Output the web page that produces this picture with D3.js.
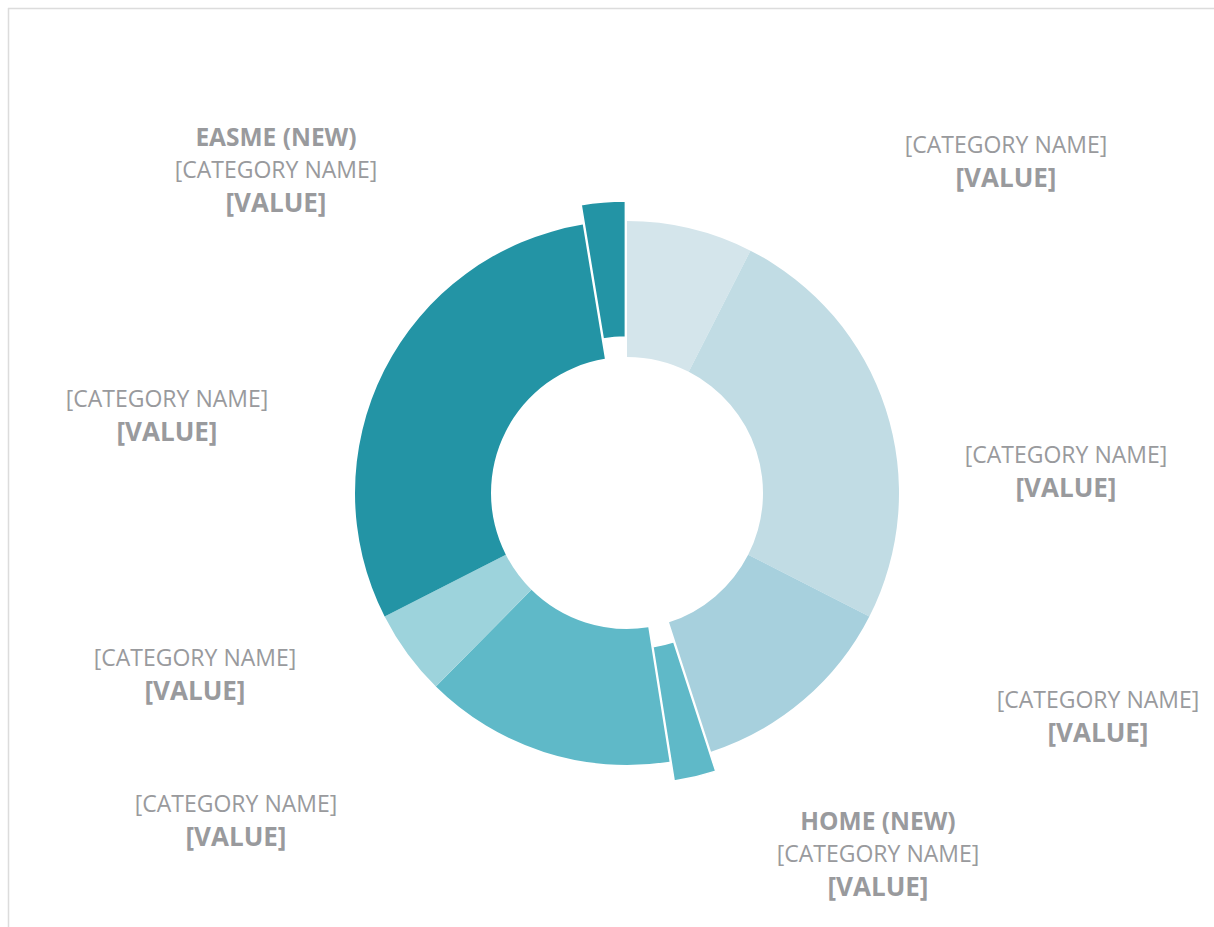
<!DOCTYPE html>
<html>
<head>
<meta charset="utf-8">
<script src="https://cdn.jsdelivr.net/npm/d3@7"></script>
<style>
  html, body { margin: 0; padding: 0; background: #fff; }
  svg { display: block; }
</style>
</head>
<body>
<svg id="chart" width="1214" height="927"></svg>
<script>
// Slice data, clockwise from 12 o'clock
const categories = ["[CATEGORY NAME]", "[CATEGORY NAME]", "[CATEGORY NAME]", "[CATEGORY NAME]",
                    "[CATEGORY NAME]", "[CATEGORY NAME]", "[CATEGORY NAME]", "[CATEGORY NAME]"];
const agencies   = ["", "", "", "HOME (NEW)", "", "", "", "EASME (NEW)"];
const valueLabels = ["[VALUE]", "[VALUE]", "[VALUE]", "[VALUE]", "[VALUE]", "[VALUE]", "[VALUE]", "[VALUE]"];
const values     = [7.5, 25.0, 12.5, 2.5, 14.9, 5.1, 29.9, 2.6];
const exploded   = [false, false, false, true, false, false, false, true];

// Styling
const colors = ["#d4e5eb", "#c1dce4", "#a7d0dd", "#5fb9c8", "#5fb9c8", "#9dd3dc", "#2394a5", "#2394a5"];
const textColor = "#999a9d";

// Label anchors (centre of each text block, first line)
const labelAnchors = [
  [1006, 145], [1066, 455], [1098, 700], [878, 821],
  [236, 804], [195, 658], [167, 399], [276, 137]
];

const cx = 627, cy = 493, outerR = 272, innerR = 136, explodeDist = 20;
const svg = d3.select("#chart");

// Frame lines along the top and left edges
svg.append("line").attr("x1", 8).attr("y1", 8.5).attr("x2", 1214).attr("y2", 8.5)
   .attr("stroke", "#dcdcdc").attr("stroke-width", 1.5);
svg.append("line").attr("x1", 8.5).attr("y1", 8).attr("x2", 8.5).attr("y2", 927)
   .attr("stroke", "#dcdcdc").attr("stroke-width", 1.5);

const pie = d3.pie().sort(null).value(d => d);
const arcs = pie(values);
const arc = d3.arc().innerRadius(innerR).outerRadius(outerR);

const g = svg.append("g").attr("transform", `translate(${cx},${cy})`);
g.selectAll("path.slice")
  .data(arcs)
  .join("path")
  .attr("class", "slice")
  .attr("d", arc)
  .attr("fill", (d, i) => colors[i])
  .attr("stroke", "#fff")
  .attr("stroke-width", (d, i) => exploded[i] ? 1.5 : 0)
  .attr("transform", (d, i) => {
    if (!exploded[i]) return null;
    const mid = (d.startAngle + d.endAngle) / 2;
    return `translate(${Math.sin(mid) * explodeDist},${-Math.cos(mid) * explodeDist})`;
  });

// Data labels
const lineH = 33;
const labels = svg.append("g").attr("font-family", "'Open Sans', 'Noto Sans', sans-serif")
  .attr("fill", textColor).attr("text-anchor", "middle");
arcs.forEach((d, i) => {
  const [lx, ly] = labelAnchors[i];
  const lines = [];
  if (agencies[i]) lines.push({ t: agencies[i], kind: "agency" });
  lines.push({ t: categories[i], kind: "category" });
  lines.push({ t: valueLabels[i], kind: "value" });
  const sizes = { agency: 24.5, category: 23, value: 26 };
  lines.forEach((ln, k) => {
    labels.append("text")
      .attr("x", lx).attr("y", ly + k * lineH)
      .attr("dy", "0.35em")
      .attr("font-size", sizes[ln.kind])
      .attr("font-weight", ln.kind === "category" ? 400 : 700)
      .text(ln.t);
  });
});
</script>
</body>
</html>
